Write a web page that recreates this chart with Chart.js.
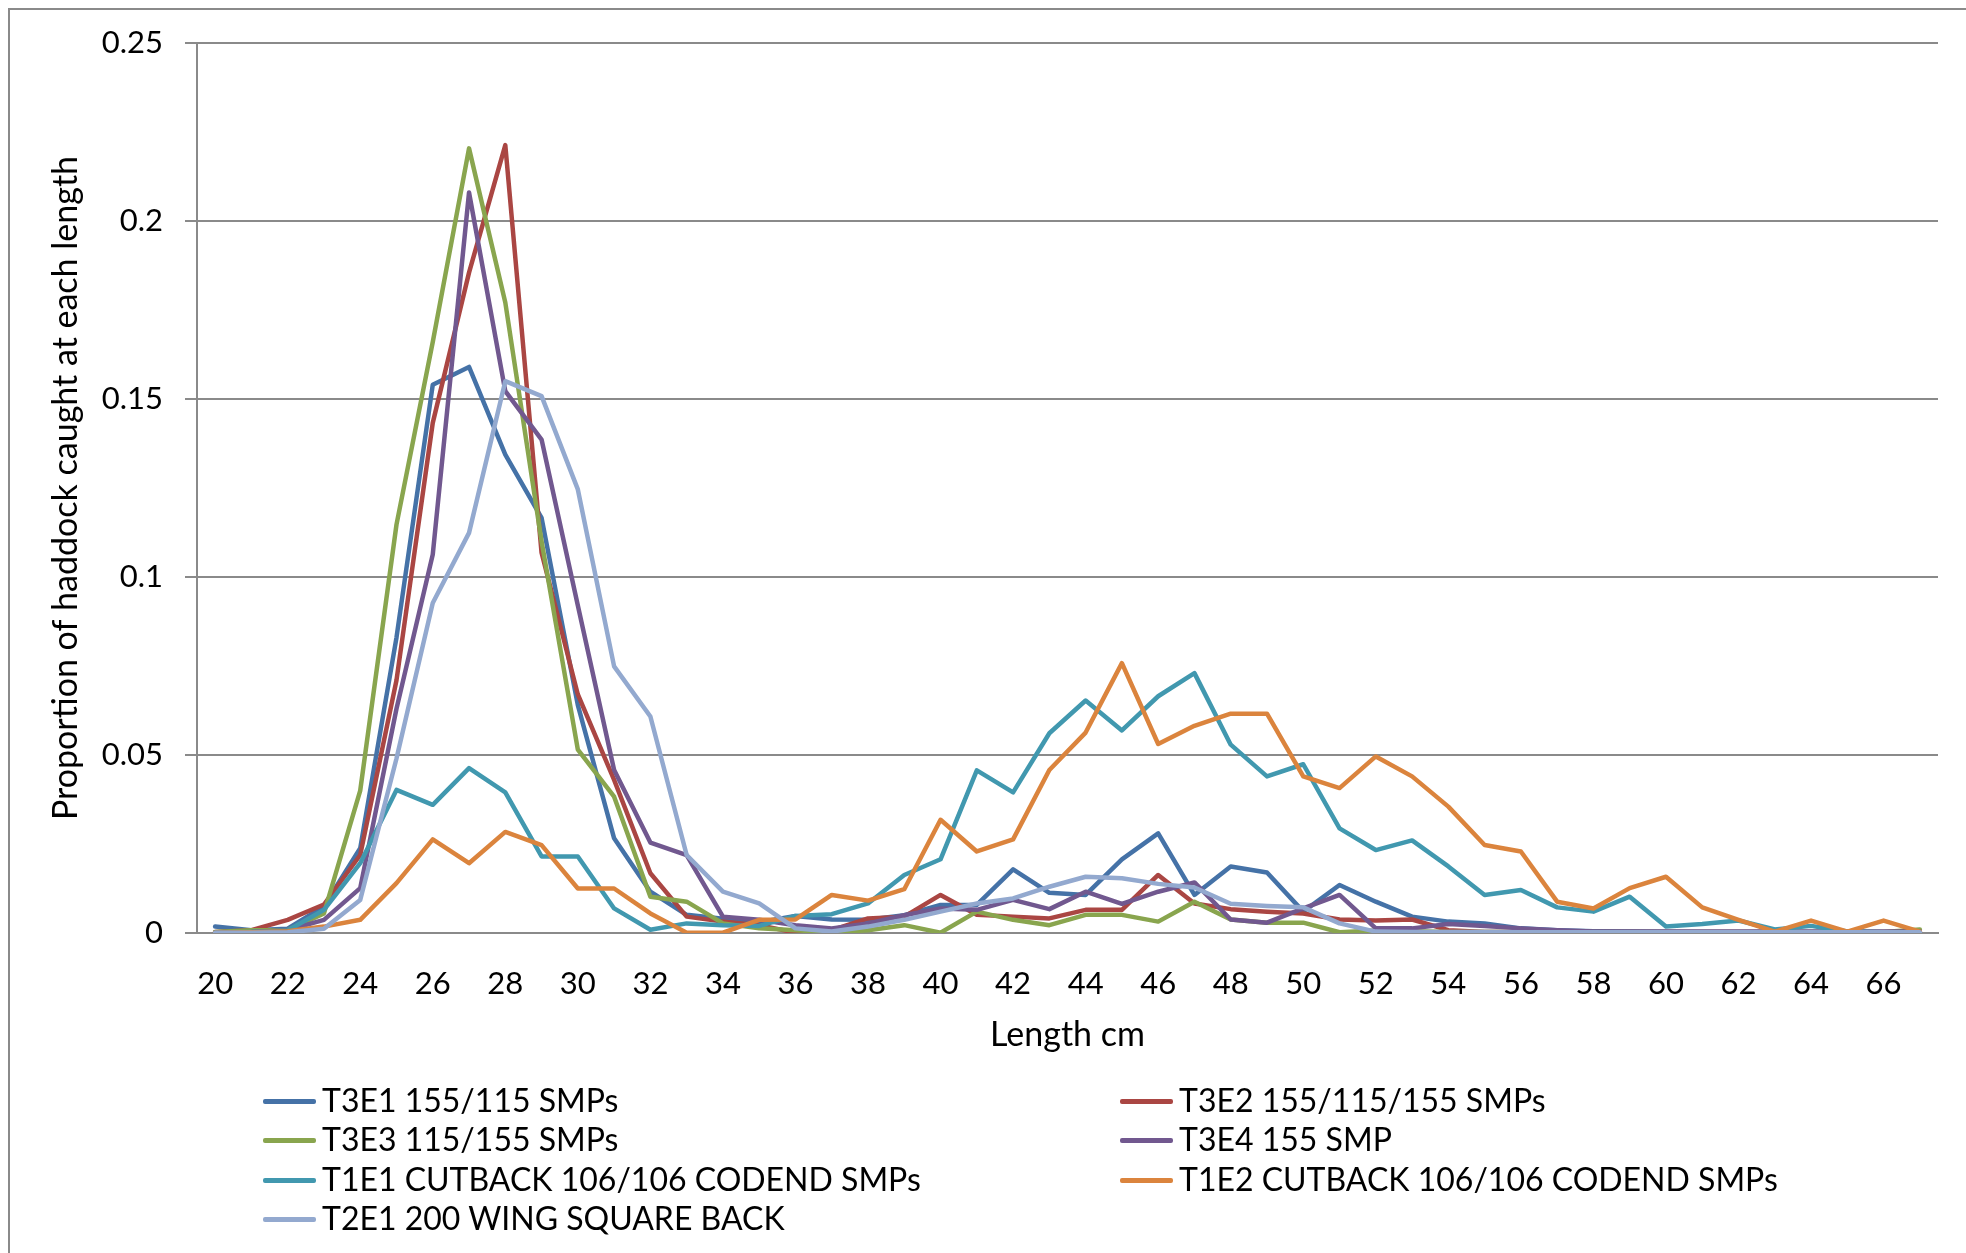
<!DOCTYPE html>
<html>
<head>
<meta charset="utf-8">
<script src="https://cdn.jsdelivr.net/npm/chart.js@4.4.1/dist/chart.umd.min.js"></script>
<style>
  html, body { margin: 0; padding: 0; background: #ffffff; }
  #wrap { position: relative; width: 1966px; height: 1253px; overflow: hidden; background: #fff; }
  #frame { position: absolute; left: 8px; top: 8px; width: 2000px; height: 1300px; border-left: 2px solid #8a8a8a; border-top: 2px solid #8a8a8a; box-sizing: border-box; }
  canvas { position: absolute; left: 0; top: 0; }
  .lg { position: absolute; font-family: Lato, "Open Sans", sans-serif; font-size: 32px; color: #000; white-space: nowrap; line-height: 1; }
  .lg .sw { position: absolute; left: 0; top: 50%; width: 53px; height: 5px; margin-top: -2px; border-radius: 2px; }
  .lg .tx { position: absolute; left: 59px; top: 50%; transform: translateY(-52%); }
</style>
</head>
<body>
<div id="wrap">
  <div id="frame"></div>
  <canvas id="c" width="1966" height="1253"></canvas>
  <div id="legend"></div>
</div>
<script>
// ---- Data ----
const lengths = [20,21,22,23,24,25,26,27,28,29,30,31,32,33,34,35,36,37,38,39,40,41,42,43,
                 44,45,46,47,48,49,50,51,52,53,54,55,56,57,58,59,60,61,62,63,64,65,66,67];

const xTickLabels = ['20','22','24','26','28','30','32','34','36','38','40','42','44','46','48','50','52','54','56','58','60','62','64','66'];
const yTicks = [0, 0.05, 0.1, 0.15, 0.2, 0.25];

const seriesNames = [
  'T3E1 155/115 SMPs',
  'T3E2 155/115/155 SMPs',
  'T3E3 115/155 SMPs',
  'T3E4 155 SMP',
  'T1E1 CUTBACK 106/106 CODEND SMPs',
  'T1E2 CUTBACK 106/106 CODEND SMPs',
  'T2E1 200 WING SQUARE BACK'
];

const seriesColors = ['#4572A7', '#AA4643', '#89A54E', '#71588F', '#4198AF', '#DB843D', '#93A9CF'];

const t3e1 = [0.0018,0.0008,0.0012,0.0075,0.0238,0.083,0.154,0.159,0.1344,0.1166,0.064,0.0266,0.0116,0.0051,0.0040,0.0030,
              0.0048,0.0038,0.0037,0.0050,0.0079,0.0079,0.0179,0.0113,0.0107,0.0207,0.028,0.0107,0.0187,0.017,0.006,0.0135,
              0.0088,0.0046,0.0032,0.0027,0.0013,0.0008,0.0005,0.0004,0.0003,0.0002,0.0002,0.0001,0.0001,0.0001,0.0001,0.0001];

const t3e2 = [0.0003,0.0008,0.0037,0.0080,0.0219,0.071,0.1433,0.1855,0.2213,0.1068,0.067,0.043,0.0168,0.0046,0.0032,0.0022,
              0.0001,0.0008,0.0041,0.0046,0.0107,0.0051,0.0046,0.0041,0.0065,0.0065,0.0163,0.0083,0.0067,0.006,0.0055,0.0038,
              0.0035,0.0038,0.0008,0.0003,0.0003,0.0002,0.0001,0.0001,0.0001,0.0001,0.0001,0.0001,0.0001,0.0001,0.0001,0.0001];

const t3e3 = [0.0003,0.0008,0.0008,0.0055,0.040,0.1147,0.166,0.2204,0.1771,0.11,0.0515,0.0383,0.0102,0.0088,0.0027,0.0013,
              0.0008,0.0001,0.0008,0.0022,0.0001,0.0060,0.0037,0.0022,0.0051,0.0051,0.0032,0.0088,0.0038,0.0029,0.0029,0.0002,
              0.0007,0.0005,0.0003,0.0003,0.0003,0.0003,0.0003,0.0003,0.0003,0.0003,0.0003,0.0003,0.0003,0.0003,0.0003,0.0010];

const t3e4 = [0.0001,0.0003,0.0008,0.0037,0.0126,0.063,0.1063,0.208,0.1522,0.1386,0.092,0.0458,0.0254,0.0219,0.0046,0.0037,
              0.0022,0.0013,0.0027,0.0050,0.0069,0.0065,0.0093,0.0067,0.0116,0.0082,0.0116,0.0142,0.0038,0.0029,0.0069,0.0107,
              0.0013,0.0013,0.0025,0.0020,0.0013,0.0008,0.0004,0.0004,0.0004,0.0004,0.0004,0.0004,0.0004,0.0004,0.0004,0.0004];

const t1e1 = [0.0001,0.0003,0.0007,0.0065,0.0196,0.0402,0.036,0.0463,0.0395,0.0215,0.0215,0.0069,0.0009,0.0027,0.0022,0.0020,
              0.0048,0.0053,0.0083,0.0163,0.0207,0.0457,0.0395,0.0561,0.0653,0.0569,0.0665,0.073,0.0529,0.044,0.0474,0.0294,
              0.0233,0.026,0.0187,0.0107,0.0121,0.0072,0.006,0.0102,0.0018,0.0025,0.0035,0.0010,0.0020,0.0004,0.0002,0.0002];

const t1e2 = [0.0001,0.0002,0.0005,0.0018,0.0037,0.014,0.0263,0.0196,0.0284,0.0247,0.0125,0.0125,0.0055,0.0001,0.0001,0.0037,
              0.0038,0.0107,0.0091,0.0123,0.0318,0.0229,0.0263,0.0458,0.0563,0.0758,0.0531,0.0582,0.0616,0.0616,0.044,0.0407,
              0.0496,0.044,0.0355,0.0247,0.0229,0.0088,0.0069,0.0126,0.0158,0.0072,0.0037,0.0004,0.0035,0.0004,0.0035,0.0004];

const t2e1 = [0.0001,0.0001,0.0002,0.0012,0.0093,0.049,0.0927,0.1124,0.155,0.1508,0.1246,0.0749,0.0608,0.0219,0.0116,0.0083,
              0.0013,0.0004,0.0018,0.0037,0.0060,0.0083,0.0097,0.0130,0.0158,0.0154,0.0138,0.0128,0.0082,0.0076,0.0072,0.0027,
              0.0004,0.0003,0.0003,0.0003,0.0002,0.0002,0.0002,0.0002,0.0002,0.0002,0.0002,0.0002,0.0002,0.0002,0.0002,0.0002];

const seriesValues = [t3e1, t3e2, t3e3, t3e4, t1e1, t1e2, t2e1];

// ---- Chart ----
const FONT = 'Lato, "Open Sans", sans-serif';
const GRID = '#8a8a8a';
const n = seriesValues.length;

const datasets = seriesValues.map((vals, i) => ({
  label: seriesNames[i],
  data: vals,
  borderColor: seriesColors[i],
  backgroundColor: seriesColors[i],
  borderWidth: 4.5,
  pointRadius: 0,
  pointHoverRadius: 0,
  tension: 0,
  fill: false,
  borderJoinStyle: 'round',
  borderCapStyle: 'round',
  order: n - i
}));

new Chart(document.getElementById('c'), {
  type: 'line',
  data: { labels: lengths.map(String), datasets },
  options: {
    responsive: false,
    animation: false,
    devicePixelRatio: 1,
    layout: { padding: { left: 0, top: 43, right: 28, bottom: 190 } },
    plugins: { legend: { display: false }, tooltip: { enabled: false } },
    scales: {
      x: {
        type: 'category',
        offset: true,
        grid: { display: false, drawTicks: false },
        border: { display: true, color: GRID, width: 2 },
        ticks: {
          autoSkip: false,
          maxRotation: 0,
          minRotation: 0,
          padding: 32,
          color: '#000',
          font: { family: FONT, size: 31 },
          callback: function (v) {
            const lab = this.getLabelForValue(v);
            return xTickLabels.includes(lab) ? lab : '';
          }
        },
        title: {
          display: true,
          text: 'Length cm',
          color: '#000',
          font: { family: FONT, size: 34 },
          padding: { top: 0, bottom: 8 }
        },
        afterFit: (s) => { s.height = 130; }
      },
      y: {
        min: 0,
        max: 0.25,
        afterBuildTicks: (s) => { s.ticks = yTicks.map(v => ({ value: v })); },
        grid: { color: GRID, lineWidth: 2, tickLength: 12, tickColor: GRID, drawTicks: true },
        border: { display: true, color: GRID, width: 2 },
        ticks: {
          padding: 22,
          color: '#000',
          font: { family: FONT, size: 31 },
          callback: (v) => String(Number(v.toFixed(2)))
        },
        title: {
          display: true,
          text: 'Proportion of haddock caught at each length',
          color: '#000',
          font: { family: FONT, size: 34 },
          padding: { top: 46, bottom: 0 }
        },
        afterFit: (s) => { s.width = 197; }
      }
    }
  }
});

// ---- Legend (HTML, built from the series arrays) ----
const legend = document.getElementById('legend');
const colX = [263, 1120];
const rowY = [1101, 1140, 1180, 1219];
seriesNames.forEach((name, i) => {
  const col = i % 2, row = Math.floor(i / 2);
  const item = document.createElement('div');
  item.className = 'lg';
  item.style.left = colX[col] + 'px';
  item.style.top = (rowY[row] - 20) + 'px';
  item.style.height = '40px';
  item.style.width = '760px';
  const sw = document.createElement('div');
  sw.className = 'sw';
  sw.style.background = seriesColors[i];
  const tx = document.createElement('div');
  tx.className = 'tx';
  tx.textContent = name;
  item.appendChild(sw);
  item.appendChild(tx);
  legend.appendChild(item);
});
</script>
</body>
</html>
